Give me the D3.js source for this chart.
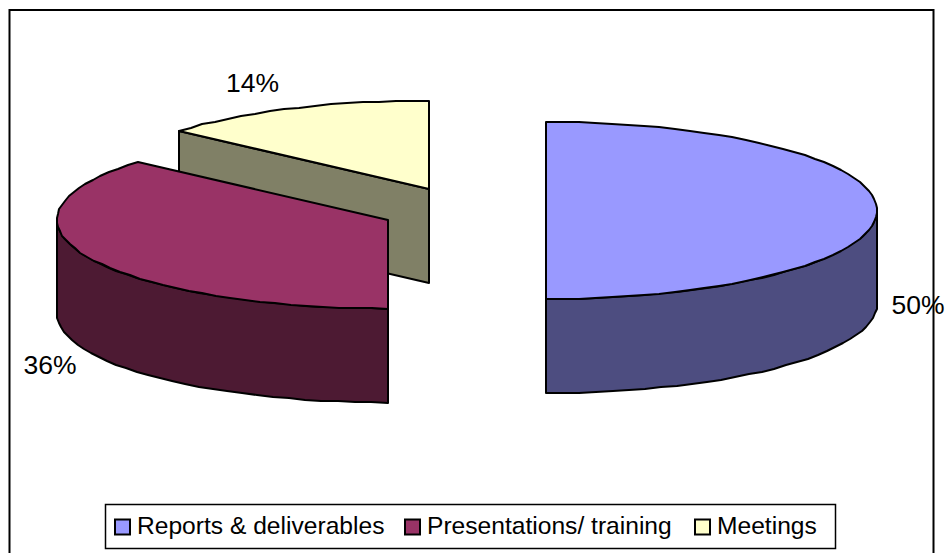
<!DOCTYPE html>
<html>
<head>
    <title>3D exploded pie</title>
    <script src="https://d3js.org/d3.v7.min.js"></script>
    <style>
        html, body { margin: 0; padding: 0; background: #fff; }
        svg { display: block; }
        text { font-family: "Liberation Sans", Arial, sans-serif; fill: #000; }
        .pct { font-size: 26.5px; }
        .legend-label { font-size: 24.6px; }
        .edge { stroke: #000; stroke-width: 2; stroke-linejoin: round; }
    </style>
</head>
<body>
<div id="chart"></div>
<script>
    // data, labels show the rounded value
    const categories = ["Reports & deliverables", "Presentations/ training", "Meetings"];
    const values = [50, 36.4, 13.6];
    const topColors = ["#9999ff", "#993366", "#ffffcc"];
    const sideColors = ["#4d4d80", "#4d1a33", "#808066"];

    const W = 945, H = 553;
    const rx = 331, ry = 88.5, depth = 94;

    // each slice is pulled out, so it has its own centre on the page
    const centers = [[546, 210.5], [388, 220], [429, 189]];
    const labelPos = [[918, 314], [50, 374], [252.5, 92]];
    const legendX = [115, 405, 695];

    const svg = d3.select("#chart").append("svg")
        .attr("width", W)
        .attr("height", H);

    // outer frame, runs off the bottom of the picture
    svg.append("rect")
        .attr("x", 9.5).attr("y", 10)
        .attr("width", 924).attr("height", 560)
        .attr("fill", "#fff").attr("stroke", "#000").attr("stroke-width", 2);

    const pie = d3.pie().sort(null).value(d => d);
    const slices = pie(values);

    const pt = (i, a, dz = 0) => [
        Math.round(centers[i][0] + rx * Math.sin(a)),
        Math.round(centers[i][1] - ry * Math.cos(a) + dz)
    ];
    const line = d3.line();
    // coarse steps on whole pixels, the original outline is a bit wobbly
    const arcPts = (i, a0, a1, dz = 0) => {
        const n = Math.max(2, Math.round(Math.abs(a1 - a0) / 0.05));
        return d3.range(n + 1).map(k => pt(i, a0 + (a1 - a0) * k / n, dz));
    };

    // 0 = top of the ellipse, going clockwise
    function drawSlice(i) {
        const s = slices[i];
        const g = svg.append("g");
        const a0 = s.startAngle, a1 = s.endAngle;
        const c = centers[i];

        // cut wall that faces the viewer
        if (i === 2) {
            g.append("path").attr("class", "edge").attr("fill", sideColors[i])
                .attr("d", line([pt(i, a0), c, [c[0], c[1] + depth], pt(i, a0, depth)]) + "Z");
        }

        // rim, only the part below the horizontal middle shows
        const rimStart = Math.max(a0, Math.PI / 2);
        const rimEnd = Math.min(a1, 3 * Math.PI / 2);
        if (rimEnd > rimStart) {
            const top = arcPts(i, rimStart, rimEnd);
            const bottom = arcPts(i, rimEnd, rimStart, depth);
            g.append("path").attr("class", "edge").attr("fill", sideColors[i])
                .attr("d", line(top.concat(bottom)) + "Z");
        }

        // top face
        g.append("path").attr("class", "edge").attr("fill", topColors[i])
            .attr("d", line([c].concat(arcPts(i, a0, a1))) + "Z");
    }

    // back to front
    [2, 1, 0].forEach(drawSlice);

    values.forEach((v, i) => {
        svg.append("text").attr("class", "pct")
            .attr("x", labelPos[i][0]).attr("y", labelPos[i][1])
            .attr("text-anchor", "middle")
            .text(Math.round(v) + "%");
    });

    // legend
    const legend = svg.append("g");
    legend.append("rect")
        .attr("x", 105.5).attr("y", 504.5)
        .attr("width", 730).attr("height", 44)
        .attr("fill", "#fff").attr("stroke", "#000").attr("stroke-width", 1.5);
    categories.forEach((c, i) => {
        legend.append("rect")
            .attr("x", legendX[i]).attr("y", 519.5)
            .attr("width", 15).attr("height", 15)
            .attr("fill", topColors[i]).attr("stroke", "#000").attr("stroke-width", 2);
        legend.append("text").attr("class", "legend-label")
            .attr("x", legendX[i] + 22).attr("y", 534)
            .text(c);
    });
</script>
</body>
</html>
